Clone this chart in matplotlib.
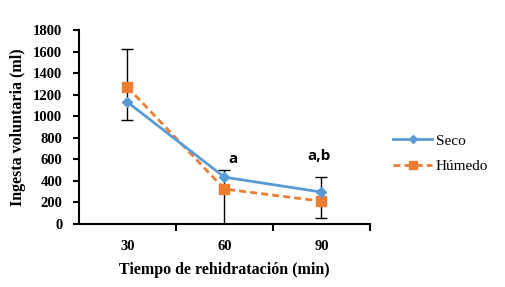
import matplotlib
matplotlib.use("Agg")
import matplotlib.pyplot as plt
from matplotlib.lines import Line2D

categories = ["30", "60", "90"]
seco = [1130, 432, 293]
humedo = [1270, 321, 209]
err_low = [963, 0, 51]
err_high = [1623, 498, 432]
annotations = ["", "a", "a,b"]
annot_y = [0, 600, 628]
yticks = list(range(0, 1801, 200))

blue = "#5B9BD5"
orange = "#ED7D31"
serif = ["Liberation Serif", "DejaVu Serif"]

fig = plt.figure(figsize=(5.06, 2.87), dpi=100)
ax = fig.add_axes([0.156, 0.221, 0.575, 0.674])

x = list(range(1, len(categories) + 1))
annot_dx = [0, 0.09, -0.02]

# error bars
mid = [(l + h) / 2 for l, h in zip(err_low, err_high)]
half = [(h - l) / 2 for l, h in zip(err_low, err_high)]
ax.errorbar(x, mid, yerr=half, fmt="none", ecolor="black", elinewidth=1.0,
            capsize=4.5, capthick=1.0, zorder=2)

ax.plot(x, seco, color=blue, lw=2, marker="D", ms=5, zorder=4, label="Seco")
ax.plot(x, humedo, color=orange, lw=2, ls=(0, (2.5, 1.5)), marker="s", ms=7,
        zorder=3, label="Húmedo")

for xi, dx, txt, yv in zip(x, annot_dx, annotations, annot_y):
    if txt:
        ax.text(xi + dx, yv, txt, ha="center", va="center",
                fontsize=11, fontweight="bold", family=["Open Sans", "DejaVu Sans"])

ax.set_xlim(0.5, 3.5)
ax.set_ylim(0, 1800)
ax.set_yticks(yticks)
ax.set_yticklabels([str(t) for t in yticks], fontsize=10.5, fontweight="bold", family=serif)
ax.set_xticks([1.5, 2.5, 3.5])
ax.set_xticklabels([])
ax.set_xticks(x, minor=True)
ax.set_xticklabels(categories, minor=True, fontsize=10.5, fontweight="bold", family=serif)
ax.tick_params(axis="x", which="minor", length=0, pad=12)
ax.tick_params(axis="x", which="major", length=5, width=1.5, direction="out")
ax.tick_params(axis="y", length=4, width=1.5, direction="out", pad=8)

for s in ["top", "right"]:
    ax.spines[s].set_visible(False)
for s in ["left", "bottom"]:
    ax.spines[s].set_linewidth(1.5)

ax.set_ylabel("Ingesta voluntaria (ml)", fontsize=11.5, fontweight="bold", family=serif, labelpad=5)
ax.set_xlabel("Tiempo de rehidratación (min)", fontsize=11.5, fontweight="bold", family=serif, labelpad=6)

handles = [Line2D([], [], color=blue, lw=2, marker="D", ms=4),
           Line2D([], [], color=orange, lw=2, ls=(0, (2.5, 1.5)), marker="s", ms=6)]
fig.legend(handles, ["Seco", "Húmedo"], loc="center left", bbox_to_anchor=(0.749, 0.465),
           frameon=False, prop={"family": serif, "size": 11}, handlelength=2.6,
           handletextpad=0.2, labelspacing=0.75)

fig.savefig("out.png", dpi=100)
